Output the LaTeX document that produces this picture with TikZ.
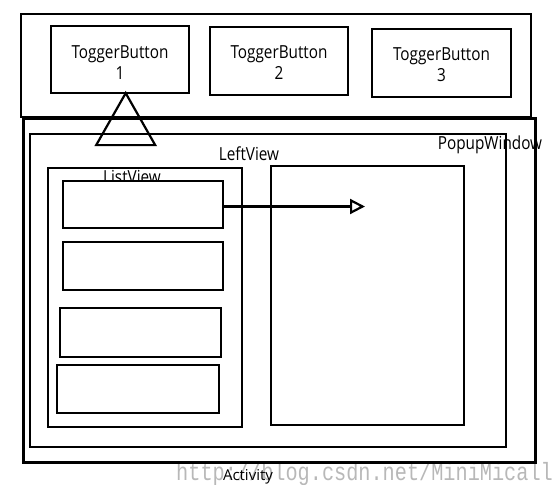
\documentclass[tikz,border=0pt]{standalone}
\usepackage{fontspec}
\setmainfont{Open Sans}[FakeStretch=0.85]
\newfontfamily\markfont{Liberation Mono}[FakeStretch=0.81]
\usepackage{tikz}
\usetikzlibrary{arrows.meta,positioning,calc}

\begin{document}
\begin{tikzpicture}[
  x=1pt, y=-1pt,
  box/.style={rectangle, draw=black, line width=2.2pt, inner sep=0pt},
  btntext/.style={inner sep=0pt, align=center, font=\fontsize{18}{21}\selectfont},
  label/.style={anchor=base, inner sep=0pt, font=\fontsize{18}{21}\selectfont},
  arrow/.style={-{Triangle[open, length=15pt, width=15pt, line width=2.2pt]}, line width=2.2pt}
]
\useasboundingbox (0,0) rectangle (555,485);
% watermark
\node[anchor=base west, inner sep=0pt, text=black!28, font=\markfont\fontsize{25}{27}\selectfont] (mark) at (176,480) {http://blog.csdn.net/MiniMicall};

\node[box, line width=2.8pt, minimum width=510pt, minimum height=103pt] (bar) at (276,65.5) {};
\node[box, minimum width=138pt, minimum height=67pt] (tb1) at (120,59.5) {};
\node[box, minimum width=138pt, minimum height=68pt] (tb2) at (279,61) {};
\node[box, minimum width=139pt, minimum height=68pt] (tb3) at (441.5,63) {};
\node[btntext] (tb1text) at ([yshift=-3pt]tb1.center) {ToggerButton\\1};
\node[btntext] (tb2text) at ([yshift=-2pt]tb2.center) {ToggerButton\\2};
\node[btntext] (tb3text) at ([yshift=-2pt]tb3.center) {ToggerButton\\3};

\node[box, minimum width=512pt, minimum height=344pt] (activity) at (279.5,290.5) {};
\node[box, minimum width=476pt, minimum height=313pt] (popup) at (268,290.8) {};
\node[box, minimum width=194pt, minimum height=259pt] (listview) at (144.6,297.8) {};
\node[box, minimum width=193pt, minimum height=259pt] (content) at (367.2,295.3) {};

\node[label] (poplabel) at (490,149) {PopupWindow};
\node[label] (leftlabel) at (249,160) {LeftView};
\node[label] (listlabel) at (132,183) {ListView};
\node[label, font=\addfontfeature{FakeStretch=1}\fontsize{15}{18}\selectfont] (actlabel) at (248,480) {Activity};

% list items
\node[box, fill=white, minimum width=160.6pt, minimum height=47.6pt] (item1) at (143,204.5) {};
\node[box, fill=white, minimum width=160.6pt, minimum height=47.7pt] (item2) at (143,266) {};
\node[box, fill=white, minimum width=161pt, minimum height=48.4pt] (item3) at (140.7,332.5) {};
\node[box, fill=white, minimum width=161.5pt, minimum height=47.7pt] (item4) at (138,388.8) {};

\coordinate (tip) at (365,206.5);
\draw[arrow] (item1.east |- tip) -- (tip);

% triangle under ToggerButton 1
\coordinate (apex) at ($(tb1.south)+(5.7,-1)$);
\draw[line width=2.2pt, line join=miter] (apex) -- ++(-29.5,52) -- ++(59,0) -- cycle;
\end{tikzpicture}
\end{document}
